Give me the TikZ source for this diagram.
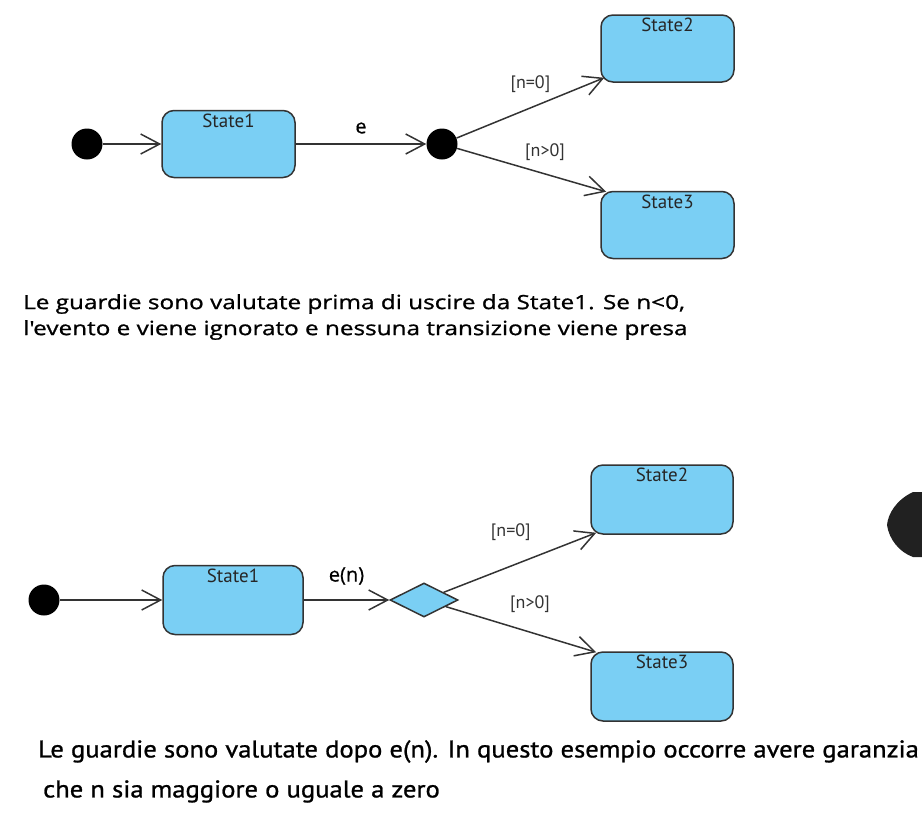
\documentclass[tikz,border=0pt]{standalone}
\usepackage{fontspec}
\setmainfont{PT Sans}
\newfontfamily\notefont[FakeStretch=1.24,FakeBold=1]{Open Sans}
\newfontfamily\narrownotefont[FakeStretch=1.1,FakeBold=1]{PT Sans}
\newfontfamily\eventfont[FakeBold=0.5]{Open Sans}
\usetikzlibrary{arrows.meta,positioning,shapes.geometric}
\definecolor{statefill}{HTML}{7ACFF4}
\definecolor{linegray}{HTML}{333333}
\tikzstyle{post}=[-{Straight Barb[length=19pt,width=20pt]},line width=1.5pt,draw=linegray]
\tikzstyle{state}=[draw=linegray,fill=statefill,rounded corners=12pt,line width=1.5pt,minimum width=133pt,minimum height=67pt]
\tikzstyle{init}=[circle,fill=black,minimum size=31pt,inner sep=0pt]
\tikzstyle{choice}=[diamond,draw=linegray,fill=statefill,line width=1.5pt,minimum width=68pt,minimum height=34pt,inner sep=0pt]
\tikzstyle{statename}=[anchor=north,inner sep=4pt,text=black!85,font=\fontsize{19}{21}\selectfont]
\tikzstyle{guard}=[midway,font=\fontsize{18}{20}\selectfont,text=black!80,inner sep=1pt]
\tikzstyle{event}=[midway,font=\eventfont\fontsize{20}{22}\selectfont,inner sep=1pt]

\begin{document}
\begin{tikzpicture}[x=1pt,y=-1pt,on grid]
  \useasboundingbox (0,0) rectangle (922,820);
  % guardie valutate prima di uscire
  \node (I1) [init] at (87,144) {};
  \node (S1) [state,right=141.5pt of I1,label={[statename]north:State1}] {};
  \node (J) [init,right=213.5pt of S1] {};
  \node (S2) [state,above right=95.5pt and 225.5pt of J,label={[statename]north:State2}] {};
  \node (S3) [state,below right=81pt and 225.5pt of J,label={[statename]north:State3}] {};

  \path[post] (I1) edge (S1);
  \path[post] (S1) edge node[event,yshift=16pt] {e} (J);
  \path[post] (J) edge node[guard,yshift=24pt] {[n=0]} ([xshift=4pt,yshift=5pt]S2.south west);
  \path[post] (J) edge node[guard,pos=0.59,yshift=22pt] {[n>0]} ([xshift=6pt,yshift=-1pt]S3.north west);

  \node (N1) [anchor=north west,align=left,inner sep=0pt,font=\notefont\fontsize{19.6}{26}\selectfont] at (23,294)
    {Le guardie sono valutate prima di uscire da State1. Se n<0,\\l'evento e viene ignorato e nessuna transizione viene presa};

  % guardie valutate dopo e(n)
  \node (I2) [init] at (44,600) {};
  \node (T1) [state,minimum width=140pt,minimum height=69pt,right=189pt of I2,label={[statename]north:State1}] {};
  \node (C) [choice,right=191pt of T1] {};
  \node (T2) [state,minimum width=142pt,minimum height=69pt,above right=100.5pt and 238pt of C,label={[statename]north:State2}] {};
  \node (T3) [state,minimum width=142pt,minimum height=69pt,below right=86.5pt and 238pt of C,label={[statename]north:State3}] {};

  \path[post] (I2) edge (T1);
  \path[post] (T1) edge node[event,yshift=24pt] {e(n)} (C);
  \path[post] (C) edge node[guard,pos=0.44,yshift=34pt] {[n=0]} ([xshift=6pt,yshift=2pt]T2.south west);
  \path[post] (C) edge node[guard,pos=0.56,yshift=28pt] {[n>0]} ([xshift=6pt,yshift=-1pt]T3.north west);

  \node (N2) [anchor=north west,align=left,inner sep=0pt,font=\narrownotefont\fontsize{24.2}{40}\selectfont] at (38,740)
    {Le guardie sono valutate dopo e(n). In questo esempio occorre avere garanzia\\\hspace{5pt}che n sia maggiore o uguale a zero};

  \fill[black!87] (922,492) -- (913,492) .. controls (896,500) and (888,514) .. (887,525)
    .. controls (889,539) and (899,552) .. (913,557) -- (922,557) -- cycle;
\end{tikzpicture}
\end{document}
